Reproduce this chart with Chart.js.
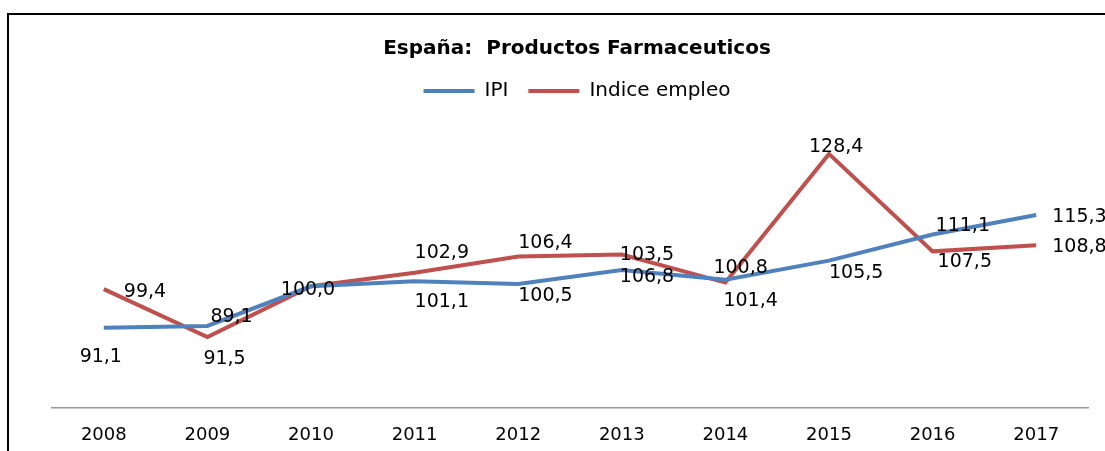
<!DOCTYPE html>
<html>
<head>
<meta charset="utf-8">
<script src="https://cdn.jsdelivr.net/npm/chart.js@4"></script>
<style>
  html, body { margin: 0; padding: 0; background: #fff; overflow: hidden; }
  #wrap { position: relative; width: 1105px; height: 451px; }
  #frame {
    position: absolute; left: 7px; top: 13px; width: 1300px; height: 700px;
    border: 2px solid #000; box-sizing: border-box;
  }
  #chart { position: absolute; left: 0; top: 0; }
</style>
</head>
<body>
<div id="wrap">
  <div id="frame"></div>
  <canvas id="chart" width="1105" height="451"></canvas>
</div>
<script>
// ---- data ----
const years = ['2008', '2009', '2010', '2011', '2012', '2013', '2014', '2015', '2016', '2017'];
const ipi = [91.1, 91.5, 100.0, 101.1, 100.5, 103.5, 101.4, 105.5, 111.1, 115.3];
const empleo = [99.4, 89.1, 100.0, 102.9, 106.4, 106.8, 100.8, 128.4, 107.5, 108.8];

// ---- style ----
const BLUE = '#4F81BD';
const RED = '#C0504D';
const FONT = "'DejaVu Sans', sans-serif";

// label placement relative to each point: [dx, dy, align] (null = not drawn)
const ipiLabelPos = [
  [-3, 29, 'center'], [-4, 33, 'left'], [-3, 4, 'center'], [0, 21, 'left'], [0, 12, 'left'],
  [-2, -15, 'left'], [-2, 21, 'left'], [0, 12, 'left'], [3, -8, 'left'], [16, 2, 'left'],
];
const empleoLabelPos = [
  [20, 3, 'left'], [3, -20, 'left'], null, [0, -20, 'left'], [0, -13, 'left'],
  [-2, 22, 'left'], [-12, -15, 'left'], [-20, -7, 'left'], [5, 11, 'left'], [16, 2, 'left'],
];

const fmt = (v) => v.toFixed(1).replace('.', ',');

// draws the value labels next to the points, Excel style
const valueLabels = {
  id: 'valueLabels',
  afterDatasetsDraw(chart) {
    const ctx = chart.ctx;
    ctx.save();
    ctx.font = '19px ' + FONT;
    ctx.fillStyle = '#000';
    ctx.textBaseline = 'middle';
    chart.data.datasets.forEach((ds, i) => {
      const meta = chart.getDatasetMeta(i);
      meta.data.forEach((pt, j) => {
        const pos = ds.labelPos[j];
        if (!pos) return;
        ctx.textAlign = pos[2];
        ctx.fillText(fmt(ds.data[j]), pt.x + pos[0], pt.y + pos[1]);
      });
    });
    ctx.restore();
  },
};

new Chart(document.getElementById('chart'), {
  type: 'line',
  data: {
    labels: years,
    datasets: [
      {
        label: 'IPI', data: ipi, borderColor: BLUE, backgroundColor: BLUE,
        borderWidth: 4, pointRadius: 0, tension: 0, labelPos: ipiLabelPos,
      },
      {
        label: 'Indice empleo', data: empleo, borderColor: RED, backgroundColor: RED,
        borderWidth: 4, pointRadius: 0, tension: 0, labelPos: empleoLabelPos,
      },
    ],
  },
  options: {
    responsive: false,
    animation: false,
    layout: { padding: { left: 52, right: 3, top: 0, bottom: 4.4 } },
    plugins: {
      title: {
        display: true,
        text: 'España:  Productos Farmaceuticos',
        color: '#000',
        font: { family: FONT, size: 20, weight: 'bold' },
        padding: { top: 37, bottom: 0 },
      },
      legend: {
        position: 'top',
        labels: {
          color: '#000',
          font: { family: FONT, size: 20 },
          usePointStyle: true,
          pointStyle: 'line',
          pointStyleWidth: 51,
          padding: 20,
        },
      },
      tooltip: { enabled: false },
    },
    scales: {
      x: {
        offset: true,
        grid: { display: false, drawTicks: false },
        border: { display: true, color: '#999', width: 1.5 },
        ticks: { color: '#000', font: { family: FONT, size: 18 }, padding: 17, maxRotation: 0 },
        afterFit: (scale) => { scale.height = 38.6; },
      },
      y: {
        position: 'right',
        min: 73.9,
        max: 137.6,
        grid: { display: false, drawTicks: false },
        border: { display: false },
        ticks: { display: false },
        afterFit: (scale) => { scale.width = 14; },
      },
    },
  },
  plugins: [valueLabels],
});
</script>
</body>
</html>
